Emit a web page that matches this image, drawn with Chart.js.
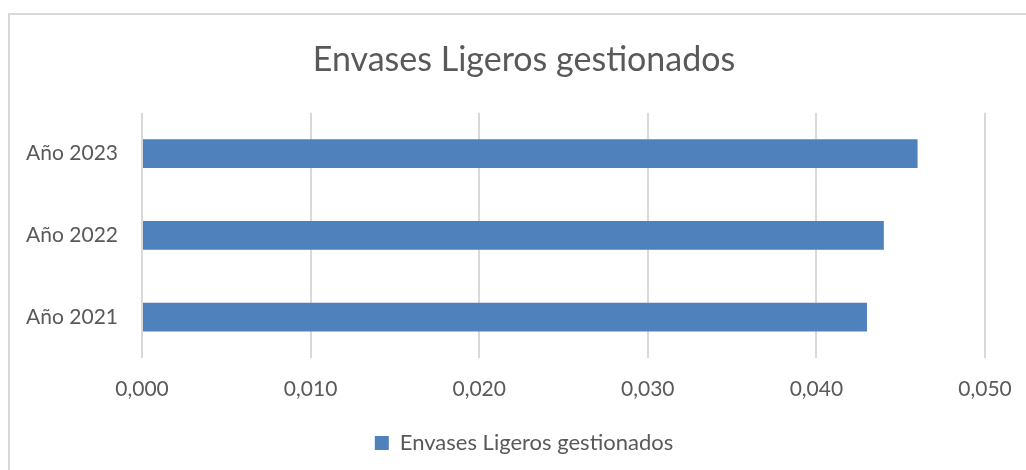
<!DOCTYPE html>
<html>
<head>
<meta charset="utf-8">
<script src="https://cdn.jsdelivr.net/npm/chart.js@4/dist/chart.umd.min.js"></script>
<style>
  html, body { margin: 0; padding: 0; background: #fff; overflow: hidden; }
  #wrap { position: relative; width: 1026px; height: 470px; }
  #frame { position: absolute; left: 8px; top: 13px; width: 1100px; height: 1000px; border: 2px solid #d9d9d9; pointer-events: none; }
</style>
</head>
<body>
<div id="wrap">
  <canvas id="barChart" width="1026" height="470"></canvas>
  <div id="frame"></div>
</div>
<script>
const chartTitle = 'Envases Ligeros gestionados';
const categories = ['Año 2023', 'Año 2022', 'Año 2021'];
const seriesName = 'Envases Ligeros gestionados';
const seriesValues = [0.046, 0.044, 0.043];
const xTicks = [0, 0.01, 0.02, 0.03, 0.04, 0.05];

const textColor = '#595959';
const fontFamily = 'Lato, "Open Sans", sans-serif';

// the original centres title and legend a bit right of the plot, nudge them over
const shiftBlocks = {
  id: 'shiftBlocks',
  afterLayout(chart) {
    chart.titleBlock.left += 63;
    chart.legend.left += 63;
  }
};

let barChartItem = new Chart(document.getElementById('barChart'), {
  type: 'bar',
  data: {
    labels: categories,
    datasets: [{
      label: seriesName,
      data: seriesValues,
      backgroundColor: '#4f81bd',
      borderWidth: 0,
      barPercentage: 0.35,
      categoryPercentage: 1
    }]
  },
  options: {
    indexAxis: 'y',
    responsive: false,
    animation: false,
    layout: { padding: { left: 0, right: 41, top: 0, bottom: 6 } },
    plugins: {
      tooltip: { enabled: false },
      title: {
        display: true,
        text: chartTitle,
        color: textColor,
        font: { family: fontFamily, size: 34, weight: 'normal' },
        padding: { top: 40, bottom: 32 }
      },
      legend: {
        position: 'bottom',
        labels: {
          color: textColor,
          font: { family: fontFamily, size: 22 },
          boxWidth: 14,
          boxHeight: 14,
          padding: 10
        }
      }
    },
    scales: {
      x: {
        min: xTicks[0],
        max: xTicks[xTicks.length - 1],
        afterBuildTicks: scale => { scale.ticks = xTicks.map(v => ({ value: v })); },
        afterFit: scale => {
          scale.height = 64;
          scale.paddingLeft = 0;
          scale.paddingRight = 0;
        },
        border: { display: false },
        grid: { color: '#d9d9d9', lineWidth: 2, drawTicks: false },
        ticks: {
          color: textColor,
          font: { family: fontFamily, size: 21 },
          padding: 19,
          maxRotation: 0,
          callback: v => Number(v).toFixed(3).replace('.', ',')
        }
      },
      y: {
        afterFit: scale => { scale.width = 142; },
        border: { display: false },
        grid: { display: false, drawTicks: false },
        ticks: {
          color: textColor,
          font: { family: fontFamily, size: 21 },
          padding: 24
        }
      }
    }
  },
  plugins: [shiftBlocks]
});
</script>
</body>
</html>
